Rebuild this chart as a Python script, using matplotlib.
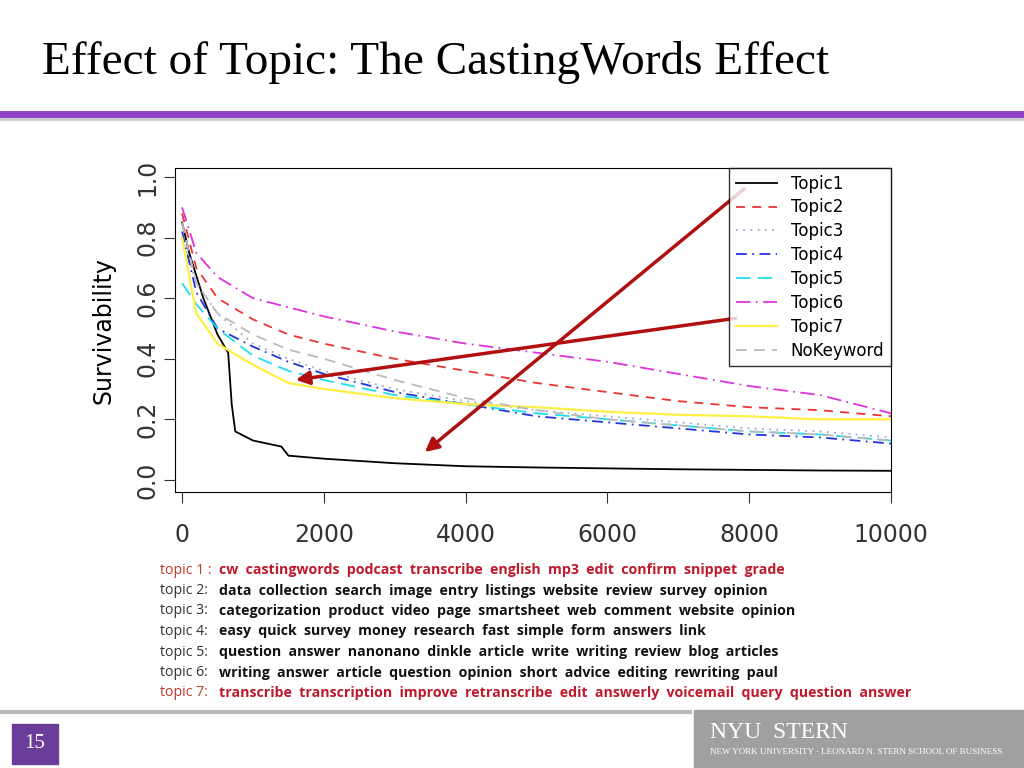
import matplotlib
matplotlib.use("Agg")
import matplotlib.pyplot as plt
from matplotlib.lines import Line2D
from matplotlib.patches import Rectangle

title = "Effect of Topic: The CastingWords Effect"
x_pts = [0, 100, 300, 500, 650, 700, 750, 1000, 1400, 1500, 2000, 3000, 4000, 5000, 6000, 7000, 8000, 9000, 10000]
topic1 = [0.85, 0.75, 0.60, 0.48, 0.42, 0.25, 0.16, 0.13, 0.11, 0.08, 0.07, 0.055, 0.045, 0.041, 0.038, 0.035, 0.033, 0.031, 0.03]
xs = [0, 200, 500, 1000, 1500, 2000, 3000, 4000, 5000, 6000, 7000, 8000, 9000, 10000]
topic2 = [0.88, 0.70, 0.60, 0.53, 0.48, 0.45, 0.40, 0.36, 0.32, 0.29, 0.26, 0.24, 0.23, 0.21]
topic3 = [0.80, 0.65, 0.55, 0.45, 0.40, 0.36, 0.30, 0.26, 0.23, 0.21, 0.19, 0.17, 0.16, 0.14]
topic4 = [0.82, 0.62, 0.50, 0.44, 0.39, 0.35, 0.29, 0.25, 0.21, 0.19, 0.17, 0.15, 0.14, 0.12]
topic5 = [0.65, 0.58, 0.50, 0.41, 0.36, 0.33, 0.28, 0.25, 0.22, 0.20, 0.18, 0.16, 0.15, 0.13]
topic6 = [0.90, 0.75, 0.67, 0.60, 0.57, 0.54, 0.49, 0.45, 0.42, 0.39, 0.35, 0.31, 0.28, 0.22]
topic7 = [0.80, 0.55, 0.45, 0.38, 0.32, 0.30, 0.27, 0.25, 0.24, 0.225, 0.215, 0.21, 0.20, 0.20]
nokw   = [0.85, 0.65, 0.55, 0.48, 0.43, 0.40, 0.33, 0.27, 0.23, 0.20, 0.18, 0.16, 0.15, 0.13]
labels = ["Topic1", "Topic2", "Topic3", "Topic4", "Topic5", "Topic6", "Topic7", "NoKeyword"]
topic_lines = [
    ("topic 1 : ", "cw  castingwords  podcast  transcribe  english  mp3  edit  confirm  snippet  grade", True),
    ("topic 2:  ", "data  collection  search  image  entry  listings  website  review  survey  opinion", False),
    ("topic 3:  ", "categorization  product  video  page  smartsheet  web  comment  website  opinion", False),
    ("topic 4:  ", "easy  quick  survey  money  research  fast  simple  form  answers  link", False),
    ("topic 5:  ", "question  answer  nanonano  dinkle  article  write  writing  review  blog  articles", False),
    ("topic 6:  ", "writing  answer  article  question  opinion  short  advice  editing  rewriting  paul", False),
    ("topic 7:  ", "transcribe  transcription  improve  retranscribe  edit  answerly  voicemail  query  question  answer", True),
]

fig = plt.figure(figsize=(10.24, 7.68), dpi=100)
W, H = 1024, 768
def fx(p): return p / W
def fy(p): return 1 - p / H

fig.text(fx(42), fy(62), title, fontsize=34, family="Liberation Serif", va="center")
fig.add_artist(Line2D([0, 1], [fy(114), fy(114)], color="#8e44c8", lw=5))
fig.add_artist(Line2D([0, 1], [fy(119), fy(119)], color="#cccccc", lw=2))

ax = fig.add_axes([fx(175), fy(492), fx(891) - fx(175), fy(168) - fy(492)])
series = [(x_pts, topic1, "black", "-", 1.3),
          (xs, topic2, "#ee3333", (0, (5, 4)), 1.3),
          (xs, topic3, "#99aacc", (0, (1, 3)), 1.3),
          (xs, topic4, "#2233dd", (0, (6, 3, 1, 3)), 1.3),
          (xs, topic5, "#22ddee", (0, (8, 4)), 1.3),
          (xs, topic6, "#dd33dd", (0, (8, 3, 1, 3)), 1.3),
          (xs, topic7, "#ffee44", "-", 1.6),
          (xs, nokw, "#bbbbbb", (0, (6, 4)), 1.3)]
for (x, y, c, ls, lw), lab in zip(series, labels):
    ax.plot(x, y, color=c, ls=ls, lw=lw, label=lab)
ax.set_xlim(-100, 10000)
ax.set_ylim(-0.04, 1.03)
ax.set_xticks([0, 2000, 4000, 6000, 8000, 10000])
ax.set_yticks([0, 0.2, 0.4, 0.6, 0.8, 1.0])
ax.set_yticklabels(["0.0", "0.2", "0.4", "0.6", "0.8", "1.0"], rotation=90, va="center")
ax.tick_params(labelsize=17, length=8, colors="#333333")
ax.tick_params(axis="x", pad=14)
ax.set_ylabel("Survivability", fontsize=17, labelpad=14)
leg = ax.legend(loc="upper right", fontsize=12, frameon=True, fancybox=False,
                edgecolor="black", handlelength=2.5, borderaxespad=0, labelspacing=0.35)
leg.get_frame().set_linewidth(1)
arrow = dict(arrowstyle="-|>", color="#b01010", lw=2.5, mutation_scale=20)
ax.annotate("", xy=(3394, 0.086), xytext=(7960, 0.967), arrowprops=arrow)
ax.annotate("", xy=(1564, 0.329), xytext=(7849, 0.535), arrowprops=arrow)

for i, (pre, words, red) in enumerate(topic_lines):
    y = fy(570 + i * 20.5)
    fig.text(fx(160), y, pre, fontsize=10.2, family="Open Sans",
             color="#c0392b" if red else "#333333", va="center")
    fig.text(fx(219), y, words, fontsize=10.2, family="Open Sans", weight="bold",
             color="#c0182b" if red else "#111111", va="center")

fig.add_artist(Line2D([0, fx(690)], [fy(712), fy(712)], color="#bbbbbb", lw=3))
fig.add_artist(Rectangle((fx(12), fy(764)), fx(46), fy(724) - fy(764), color="#6a3d9a"))
fig.text(fx(35), fy(744), "15", color="white", fontsize=15, family="Liberation Serif",
         ha="center", va="center")
fig.add_artist(Rectangle((fx(694), fy(768)), fx(330), fy(710) - fy(768), color="#a0a0a0"))
fig.text(fx(710), fy(733), "NYU  STERN", color="white", fontsize=17, family="Liberation Serif", va="center")
fig.text(fx(710), fy(752), "NEW YORK UNIVERSITY · LEONARD N. STERN SCHOOL OF BUSINESS",
         color="white", fontsize=6.5, family="Liberation Serif", va="center")
fig.savefig("out.png", dpi=100)
